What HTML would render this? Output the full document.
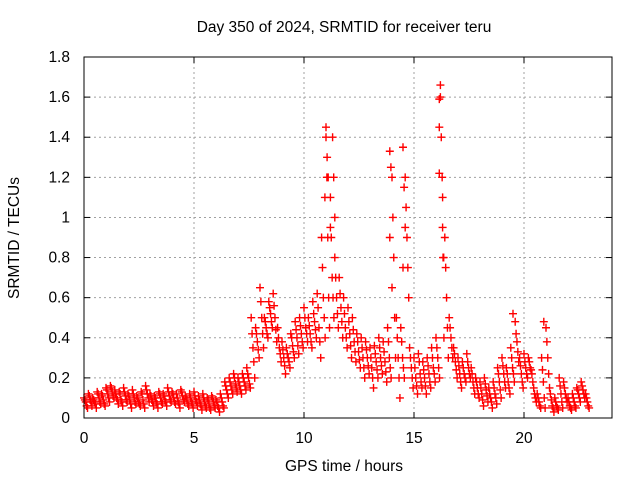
<!DOCTYPE html>
<html><head><meta charset="utf-8"><style>
body{margin:0;background:#fff}
svg{display:block;font-family:"Liberation Sans",sans-serif;font-size:15.5px}
</style></head><body>
<svg id="chart" width="640" height="480">
<g id="grid"></g>
<g id="marks"></g>
<g id="axes"></g>
<text x="344" y="32" text-anchor="middle">Day 350 of 2024, SRMTID for receiver teru</text>
<text x="344" y="471" text-anchor="middle">GPS time / hours</text>
<text transform="translate(19,238) rotate(-90)" text-anchor="middle">SRMTID / TECUs</text>
</svg>
<script>
const xTicks=[0,5,10,15,20];
const yTicks=[0,0.2,0.4,0.6,0.8,1,1.2,1.4,1.6,1.8];
const yTickLabels=["0","0.2","0.4","0.6","0.8","1","1.2","1.4","1.6","1.8"];
const step=0.2;
const seriesA=[0.1,0.12,0.1,0.13,0.12,0.15,0.16,0.14,0.13,0.15,
0.12,0.14,0.11,0.13,0.16,0.12,0.11,0.13,0.12,0.15,
0.13,0.12,0.14,0.11,0.12,0.13,0.11,0.12,0.1,0.11,
0.09,0.12,0.18,0.2,0.22,0.2,0.22,0.25,0.5,0.45,
0.65,0.5,0.58,0.62,0.45,0.38,0.35,0.42,0.48,0.5,
0.55,0.5,0.58,0.62,0.9,1.4,1.1,0.8,0.7,0.6,
0.55,0.5,0.42,0.4,0.38,0.35,0.36,0.4,0.38,0.45,
1.2,0.5,0.45,1.2,0.35,0.3,0.32,0.28,0.3,0.35,
0.4,1.6,0.9,0.5,0.35,0.3,0.28,0.32,0.25,0.2,
0.18,0.2,0.15,0.18,0.25,0.3,0.25,0.35,0.48,0.3,
0.32,0.3,0.18,0.12,0.3,0.45,0.12,0.1,0.2,0.18,
0.1,0.12,0.15,0.18,0.12];
const seriesD=[0.09,0.11,0.09,0.12,0.11,0.14,0.15,0.12,0.12,0.13,
0.11,0.12,0.1,0.12,0.14,0.11,0.1,0.12,0.11,0.13,
0.12,0.1,0.13,0.1,0.1,0.11,0.09,0.1,0.09,0.1,
0.08,0.1,0.16,0.18,0.2,0.18,0.2,0.22,0.42,0.42,
0.58,0.48,0.55,0.56,0.4,0.34,0.32,0.4,0.44,0.46,
0.5,0.46,0.52,0.55,0.75,1.2,0.9,0.7,0.62,0.52,
0.48,0.44,0.38,0.35,0.34,0.3,0.32,0.35,0.33,0.38,
1.0,0.4,0.38,1.05,0.3,0.25,0.28,0.24,0.26,0.3,
0.35,1.4,0.75,0.45,0.32,0.26,0.25,0.28,0.22,0.18,
0.15,0.17,0.12,0.15,0.22,0.26,0.22,0.3,0.42,0.26,
0.28,0.28,0.15,0.1,0.24,0.38,0.09,0.08,0.16,0.15,
0.08,0.1,0.14,0.16,0.1];
const seriesC=[0.08,0.09,0.08,0.1,0.09,0.12,0.13,0.1,0.09,0.11,
0.09,0.1,0.08,0.09,0.12,0.09,0.08,0.1,0.09,0.11,
0.1,0.08,0.11,0.09,0.08,0.09,0.07,0.08,0.07,0.08,
0.06,0.08,0.14,0.16,0.17,0.16,0.18,0.2,0.35,0.38,
0.5,0.45,0.52,0.5,0.35,0.3,0.3,0.36,0.4,0.42,
0.45,0.42,0.48,0.45,0.6,0.9,0.7,0.6,0.55,0.45,
0.42,0.38,0.33,0.3,0.3,0.25,0.28,0.3,0.28,0.3,
0.8,0.3,0.3,0.9,0.25,0.2,0.22,0.2,0.22,0.25,
0.3,1.2,0.6,0.4,0.28,0.22,0.22,0.25,0.18,0.15,
0.12,0.14,0.1,0.12,0.18,0.22,0.18,0.25,0.38,0.22,
0.25,0.25,0.12,0.08,0.18,0.3,0.06,0.06,0.12,0.12,
0.06,0.08,0.12,0.14,0.08];
const seriesE=[0.06,0.08,0.07,0.08,0.07,0.1,0.11,0.09,0.08,0.09,
0.07,0.08,0.07,0.07,0.1,0.08,0.07,0.08,0.08,0.09,
0.08,0.07,0.09,0.07,0.07,0.08,0.06,0.06,0.05,0.06,
0.05,0.06,0.12,0.14,0.15,0.14,0.16,0.17,0.28,0.34,
0.42,0.42,0.48,0.44,0.32,0.26,0.28,0.33,0.36,0.38,
0.42,0.38,0.44,0.38,0.5,0.6,0.6,0.52,0.48,0.4,
0.36,0.33,0.29,0.25,0.26,0.2,0.24,0.26,0.23,0.25,
0.5,0.2,0.25,0.75,0.2,0.16,0.18,0.16,0.18,0.22,
0.25,0.8,0.45,0.35,0.24,0.18,0.2,0.22,0.15,0.12,
0.09,0.11,0.08,0.1,0.14,0.18,0.15,0.22,0.33,0.18,
0.22,0.24,0.1,0.06,0.1,0.22,0.05,0.05,0.08,0.1,
0.05,0.06,0.1,0.12,0.06];
const seriesB=[0.05,0.06,0.05,0.07,0.06,0.08,0.1,0.07,0.06,0.08,
0.05,0.07,0.06,0.05,0.08,0.06,0.05,0.07,0.06,0.08,
0.07,0.05,0.08,0.06,0.05,0.06,0.04,0.05,0.04,0.05,
0.03,0.05,0.1,0.12,0.13,0.12,0.14,0.15,0.2,0.3,
0.35,0.4,0.45,0.38,0.28,0.22,0.25,0.3,0.32,0.35,
0.38,0.35,0.4,0.3,0.4,0.45,0.5,0.45,0.4,0.35,
0.3,0.28,0.25,0.2,0.22,0.15,0.2,0.22,0.18,0.2,
0.3,0.1,0.2,0.6,0.15,0.12,0.15,0.12,0.15,0.18,
0.2,0.4,0.3,0.3,0.2,0.15,0.18,0.2,0.12,0.1,
0.06,0.08,0.05,0.07,0.1,0.15,0.12,0.18,0.28,0.15,
0.2,0.22,0.08,0.05,0.05,0.15,0.03,0.04,0.05,0.08,
0.04,0.05,0.08,0.1,0.05];
const spikeT=[11.0,11.05,11.1,10.95,11.3,11.35,11.4,11.2,13.9,13.95,13.9,14.0,14.5,14.55,14.6,14.5,16.2,16.15,16.15,16.15,16.3,16.3,16.35,19.5,20.9];
const spikeY=[1.45,1.3,1.2,1.1,1.4,1.2,1.0,0.95,1.33,1.25,0.9,0.65,1.35,1.15,0.95,0.75,1.66,1.59,1.45,1.22,1.1,0.95,0.8,0.52,0.48];

const L=84,R=612,T=57,B=418,XMAX=24,YMAX=1.8;
const xs=v=>L+v/XMAX*(R-L);
const ys=v=>B-v/YMAX*(B-T);
const NS="http://www.w3.org/2000/svg";
function mk(tag,attrs,parent){const e=document.createElementNS(NS,tag);for(const k in attrs)e.setAttribute(k,attrs[k]);parent.appendChild(e);return e;}
const grid=document.getElementById('grid'),axes=document.getElementById('axes'),marks=document.getElementById('marks');
yTicks.forEach((v,i)=>{
  const y=ys(v);
  if(i>0&&i<yTicks.length-1){const g=mk('line',{x1:L,x2:R,y1:y,y2:y,stroke:'#a0a0a0','stroke-dasharray':'2,3'},grid);
  
  }
  mk('line',{x1:L,x2:L+6,y1:y,y2:y,stroke:'#000'},axes);
  mk('line',{x1:R,x2:R-6,y1:y,y2:y,stroke:'#000'},axes);
  const t=mk('text',{x:70,y:y+5,'text-anchor':'end'},axes);t.textContent=yTickLabels[i];
  
  
});
xTicks.forEach(v=>{
  const x=xs(v);
  if(v>0){const g=mk('line',{x1:x,x2:x,y1:T,y2:B,stroke:'#a0a0a0','stroke-dasharray':'2,3'},grid);
  
  }
  mk('line',{x1:x,x2:x,y1:B,y2:B-6,stroke:'#000'},axes);
  mk('line',{x1:x,x2:x,y1:T,y2:T+6,stroke:'#000'},axes);
  const t=mk('text',{x:x,y:B+25,'text-anchor':'middle'},axes);t.textContent=String(v);
  
  
});
const f=mk('rect',{x:L,y:T,width:R-L,height:B-T,fill:'none',stroke:'#000'},axes);


function plus(t,v){
  const x=xs(t),y=ys(v);
  const p=mk('path',{d:`M${x-4} ${y}h8M${x} ${y-4}v8`,stroke:'#f00','stroke-width':1.4,fill:'none'},marks);
  
  
}
seriesA.forEach((v,i)=>plus(i*step,v));
seriesD.forEach((v,i)=>plus(i*step+step*0.2,v));
seriesC.forEach((v,i)=>plus(i*step+step*0.4,v));
seriesE.forEach((v,i)=>plus(i*step+step*0.6,v));
seriesB.forEach((v,i)=>plus(i*step+step*0.8,v));
spikeT.forEach((t,i)=>plus(t,spikeY[i]));
</script>
</body></html>
